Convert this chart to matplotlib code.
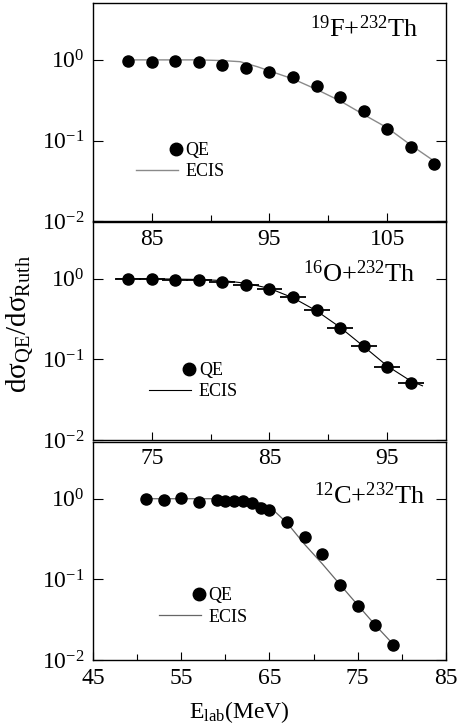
import numpy as np
import matplotlib
matplotlib.use("Agg")
import matplotlib.pyplot as plt
from matplotlib.legend_handler import HandlerLine2D
from matplotlib.lines import Line2D
from matplotlib.ticker import LogLocator, LogFormatterMathtext, NullLocator

plt.rcParams['font.family'] = ['Liberation Serif', 'DejaVu Serif']
plt.rcParams['mathtext.fontset'] = 'custom'
plt.rcParams['mathtext.rm'] = 'Liberation Serif'
plt.rcParams['mathtext.it'] = 'Liberation Serif:italic'
plt.rcParams['mathtext.bf'] = 'Liberation Serif:bold'

# ---- data: 19F + 232Th ----
f_e = [83, 85, 87, 89, 91, 93, 95, 97, 99, 101, 103, 105, 107, 109]
f_qe = [0.98, 0.95, 0.98, 0.94, 0.86, 0.79, 0.71, 0.61, 0.47, 0.35, 0.235, 0.14, 0.084, 0.051]
f_ecis_e = [83, 89, 91, 92.5, 94, 95, 97, 99, 101, 103, 105, 107, 109.2]
f_ecis = [1.0, 1.0, 0.98, 0.95, 0.82, 0.73, 0.58, 0.43, 0.31, 0.21, 0.144, 0.088, 0.053]

# ---- data: 16O + 232Th ----
o_e = [73, 75, 77, 79, 81, 83, 85, 87, 89, 91, 93, 95, 97]
o_qe = [1.0, 1.0, 0.97, 0.97, 0.92, 0.84, 0.74, 0.59, 0.41, 0.245, 0.146, 0.080, 0.0515]
o_err = [1.1] * len(o_e)
o_ecis_e = [72, 75, 79, 81, 83, 85, 87, 89, 91, 93, 95, 97, 98]
o_ecis = [1.0, 1.0, 0.98, 0.95, 0.88, 0.76, 0.58, 0.40, 0.25, 0.145, 0.083, 0.054, 0.047]

# ---- data: 12C + 232Th ----
c_e = [51, 53, 55, 57, 59, 60, 61, 62, 63, 64, 65, 67, 69, 71, 73, 75, 77, 79]
c_qe = [0.98, 0.96, 1.01, 0.91, 0.96, 0.93, 0.93, 0.93, 0.88, 0.77, 0.73, 0.52, 0.34, 0.204, 0.086, 0.047, 0.027, 0.0155]
c_ecis_e = [51, 60, 63, 65, 67, 69, 71, 73, 75, 77, 79.3]
c_ecis = [1.0, 1.0, 0.97, 0.80, 0.50, 0.27, 0.155, 0.086, 0.048, 0.027, 0.0145]

labels = [r'$^{19}$F+$^{232}$Th', r'$^{16}$O+$^{232}$Th', r'$^{12}$C+$^{232}$Th']
xlims = [(80, 110), (70, 100), (45, 85)]
xmajor = [[85, 95, 105], [75, 85, 95], [45, 55, 65, 75, 85]]
xminor = [[90, 100], [80, 90], [50, 60, 70, 80]]


class RightMarker(HandlerLine2D):
    def create_artists(self, legend, orig_handle, xdescent, ydescent,
                       width, height, fontsize, trans):
        xm = -xdescent + width - 0.1 * fontsize
        ym = (height - ydescent) / 2
        m = Line2D([xm], [ym], ls='none', marker='o', color='black',
                   ms=orig_handle.get_markersize())
        m.set_transform(trans)
        return [m]


fig = plt.figure(figsize=(4.57, 7.25), dpi=100)
L, W, H = 0.2035, 0.7724, 0.3007
bottoms = [0.695, 0.3931, 0.0897]
axes = [fig.add_axes([L, b, W, H]) for b in bottoms]

datasets = [
    (f_e, f_qe, None, f_ecis_e, f_ecis, '#8a8a8a', 1.0),
    (o_e, o_qe, o_err, o_ecis_e, o_ecis, 'black', 0.8),
    (c_e, c_qe, None, c_ecis_e, c_ecis, '#666666', 0.9),
]
leg_anchor = [(0.122, 0.275), (0.159, 0.27), (0.187, 0.245)]
lab_pos = [(0.92, 0.844), (0.915, 0.723), (0.94, 0.714)]

for i, ax in enumerate(axes):
    e, q, err, ee, ec, lc, lw = datasets[i]
    ax.patch.set_alpha(0)
    ax.set_yscale('log')
    ax.set_ylim(0.01, 5.06)
    ax.set_xlim(*xlims[i])
    ax.plot(ee, ec, color=lc, lw=lw, zorder=2)
    if err is not None:
        ax.errorbar(e, q, xerr=err, fmt='none', ecolor='black', elinewidth=1.3, capsize=0, zorder=2.5)
    ax.plot(e, q, 'o', color='black', ms=8, zorder=3)
    ax.yaxis.set_major_locator(LogLocator(base=10, numticks=5))
    ax.yaxis.set_major_formatter(LogFormatterMathtext())
    ax.yaxis.set_minor_locator(NullLocator())
    ax.set_xticks(xmajor[i])
    ax.set_xticks(xminor[i], minor=True)
    ax.tick_params(axis='both', which='both', direction='in', labelsize=17)
    ax.tick_params(axis='y', which='major', length=7, right=True, width=0.8, pad=6)
    ax.tick_params(axis='x', which='major', length=6, width=0.8, pad=6)
    ax.tick_params(axis='x', which='minor', length=4, width=0.8)
    for s in ax.spines.values():
        s.set_linewidth(1.0)
    ax.text(lab_pos[i][0], lab_pos[i][1], labels[i], transform=ax.transAxes,
            ha='right', va='baseline', fontsize=19)
    h_qe = Line2D([], [], ls='none', marker='o', color='black', ms=9)
    h_ec = Line2D([], [], color=lc, lw=lw)
    ax.legend([h_qe, h_ec], ['QE', 'ECIS'], loc='center left',
              bbox_to_anchor=leg_anchor[i], frameon=False, fontsize=13,
              handlelength=2.3, handletextpad=0.45, labelspacing=0.25,
              borderpad=0, borderaxespad=0,
              handler_map={h_qe: RightMarker()})

fig.text(0.043, 0.554, r'dσ$_{\rm QE}$/dσ$_{\rm Ruth}$', rotation=90,
         ha='center', va='center', fontsize=21)
fig.text(0.523, 0.018, r'E$_{\rm lab}$(MeV)', ha='center', va='center', fontsize=17)

fig.savefig('out.png', dpi=100)
